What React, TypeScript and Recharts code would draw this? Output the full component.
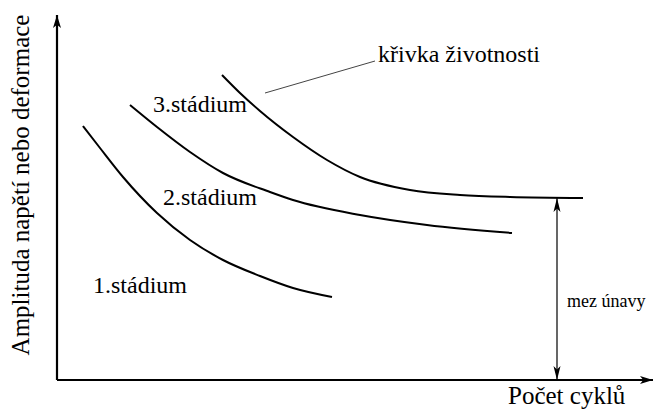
import { ComposedChart, Line, XAxis, YAxis, ReferenceLine, ReferenceDot } from "recharts";

// curves, x = cycles (arbitrary units), y = amplitude (arbitrary units)
const stage1Curve = [
  { x: 26, y: 254 },
  { x: 43, y: 232 },
  { x: 66, y: 203 },
  { x: 100, y: 167 },
  { x: 133, y: 140 },
  { x: 166, y: 120 },
  { x: 203, y: 104 },
  { x: 236, y: 92 },
  { x: 275, y: 83 },
];
const stage2Curve = [
  { x: 73, y: 275 },
  { x: 100, y: 253 },
  { x: 133, y: 228 },
  { x: 166, y: 207 },
  { x: 213, y: 188 },
  { x: 236, y: 180 },
  { x: 303, y: 165 },
  { x: 370, y: 155 },
  { x: 455, y: 147 },
];
const lifeCurve = [
  { x: 165, y: 305 },
  { x: 183, y: 287 },
  { x: 203, y: 269 },
  { x: 236, y: 243 },
  { x: 270, y: 220 },
  { x: 303, y: 203 },
  { x: 353, y: 190 },
  { x: 403, y: 185 },
  { x: 453, y: 183 },
  { x: 526, y: 182 },
];

const X_MAX = 598;
const Y_MAX = 365;
const fatigueLimit = { x: 500, y: 182 };
const leader = [
  { x: 208, y: 287 },
  { x: 318, y: 319 },
];

const labels = [
  { text: "křivka životnosti", x: 321, y: 318, size: 24, rot: 0, anchor: "start" },
  { text: "3.stádium", x: 96, y: 268, size: 24, rot: 0, anchor: "start" },
  { text: "2.stádium", x: 106, y: 175, size: 24, rot: 0, anchor: "start" },
  { text: "1.stádium", x: 36, y: 87, size: 24, rot: 0, anchor: "start" },
  { text: "mez únavy", x: 510, y: 73, size: 18, rot: 0, anchor: "start" },
  { text: "Počet cyklů", x: 451, y: -24, size: 25, rot: 0, anchor: "start" },
  { text: "Amplituda napětí nebo deformace", x: -28, y: 195, size: 25, rot: -90, anchor: "middle" },
];

const FONT = "Liberation Serif";

function head(tx: number, ty: number, x0: number, y0: number, len: number, half: number) {
  const l = Math.hypot(tx - x0, ty - y0) || 1;
  const dx = (tx - x0) / l;
  const dy = (ty - y0) / l;
  const bx = tx - dx * len;
  const by = ty - dy * len;
  const nx = bx + dx * len * 0.25;
  const ny = by + dy * len * 0.25;
  return `${tx},${ty} ${bx - dy * half},${by + dx * half} ${nx},${ny} ${bx + dy * half},${by - dx * half}`;
}

const AxisArrow = (props: any) => {
  const { x1, y1, x2, y2 } = props;
  return (
    <g>
      <line x1={x1} y1={y1} x2={x2} y2={y2} stroke="#000" strokeWidth={2.2} />
      <polygon points={head(x2, y2, x1, y1, 13, 4)} fill="#000" />
    </g>
  );
};

const DoubleArrow = (props: any) => {
  const { x1, y1, x2, y2 } = props;
  return (
    <g>
      <line x1={x1} y1={y1} x2={x2} y2={y2} stroke="#000" strokeWidth={1.2} />
      <polygon points={head(x1, y1, x2, y2, 14, 3.5)} fill="#000" />
      <polygon points={head(x2, y2, x1, y1, 14, 3.5)} fill="#000" />
    </g>
  );
};

const Leader = (props: any) => (
  <line x1={props.x1} y1={props.y1} x2={props.x2} y2={props.y2} stroke="#444" strokeWidth={1} />
);

export default function App() {
  return (
    <div style={{ position: "absolute", left: 0, top: 0, background: "#fff" }}>
      <ComposedChart width={656} height={414} margin={{ top: 15, right: 1, left: 57, bottom: 34 }}>
        <XAxis type="number" dataKey="x" domain={[0, X_MAX]} hide allowDataOverflow />
        <YAxis type="number" dataKey="y" domain={[0, Y_MAX]} hide allowDataOverflow />

        <ReferenceLine segment={[{ x: 0, y: 0 }, { x: X_MAX - 2, y: 0 }]} ifOverflow="visible" shape={AxisArrow} />
        <ReferenceLine segment={[{ x: 0, y: 0 }, { x: 0, y: Y_MAX }]} ifOverflow="visible" shape={AxisArrow} />
        <ReferenceLine
          segment={[{ x: fatigueLimit.x, y: fatigueLimit.y }, { x: fatigueLimit.x, y: 0 }]}
          ifOverflow="visible"
          shape={DoubleArrow}
        />
        <ReferenceLine segment={[leader[0], leader[1]]} ifOverflow="visible" shape={Leader} />

        {[stage1Curve, stage2Curve, lifeCurve].map((d, i) => (
          <Line
            key={i}
            data={d}
            dataKey="y"
            type="monotone"
            stroke="#000"
            strokeWidth={2}
            dot={false}
            activeDot={false}
            isAnimationActive={false}
          />
        ))}

        {labels.map((l) => (
          <ReferenceDot
            key={l.text}
            x={l.x}
            y={l.y}
            r={0}
            ifOverflow="visible"
            shape={(p: any) => (
              <text
                x={p.cx}
                y={p.cy}
                fontFamily={FONT}
                fontSize={l.size}
                textAnchor={l.anchor}
                fill="#000"
                transform={`rotate(${l.rot}, ${p.cx}, ${p.cy})`}
              >
                {l.text}
              </text>
            )}
          />
        ))}
      </ComposedChart>
    </div>
  );
}
